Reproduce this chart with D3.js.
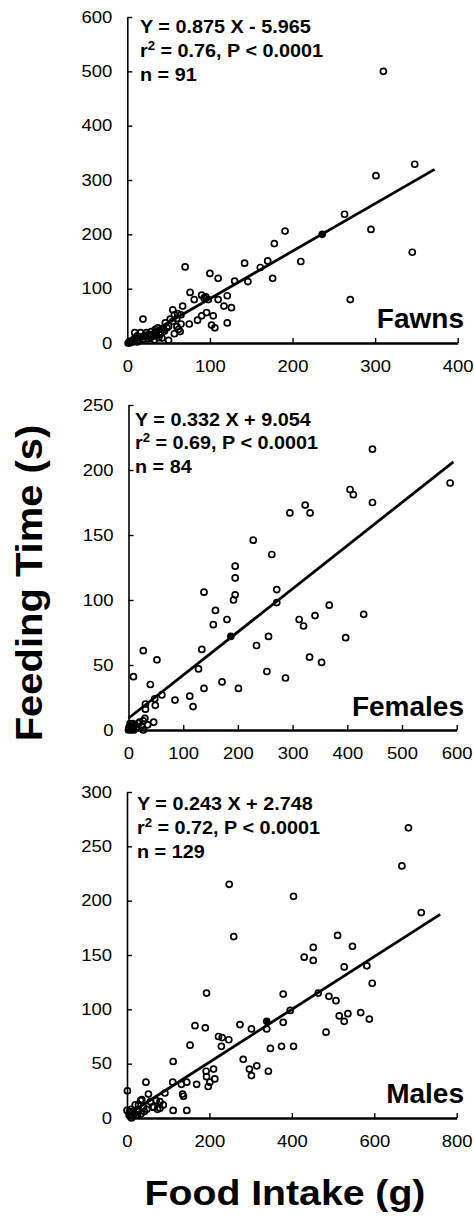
<!DOCTYPE html>
<html><head><meta charset="utf-8">
<script src="https://cdn.jsdelivr.net/npm/d3@7"></script>
<style>
html,body{margin:0;padding:0;background:#fff;}
svg{display:block;}
text{font-family:"Liberation Sans",Arial,Helvetica,sans-serif;fill:#000;}
</style></head>
<body>
<svg id="chart" width="474" height="1216"></svg>
<script>
// ---------- data ----------
const panelNames = ["Fawns", "Females", "Males"];
const equations = ["Y = 0.875 X - 5.965", "Y = 0.332 X + 9.054", "Y = 0.243 X + 2.748"];
const r2Values = ["0.76", "0.69", "0.72"];
const pValues = ["P < 0.0001", "P < 0.0001", "P < 0.0001"];
const nValues = ["91", "84", "129"];
const slopes = [0.875, 0.332, 0.243];
const intercepts = [-5.965, 9.054, 2.748];
const lineRanges = [[1, 372], [0, 594], [0, 760]];
const xDomains = [[0, 400], [0, 600], [0, 800]];
const yDomains = [[0, 600], [0, 250], [0, 300]];
const xTicks = [[0, 100, 200, 300, 400], [0, 100, 200, 300, 400, 500, 600], [0, 200, 400, 600, 800]];
const yTicks = [[0, 100, 200, 300, 400, 500, 600], [0, 50, 100, 150, 200, 250], [0, 50, 100, 150, 200, 250, 300]];
const xTitle = "Food Intake (g)";
const yTitle = "Feeding Time (s)";

const fawns = [
  [310,500],[301,308],[263,237],[295,209],[345,167],[270,80],[348,329],
  [191,206],[178,183],[210,150],[176,119],[170,151],[161,139],[142,147],[146,113],[130,114],
  [70,140],[100,128],[110,119],[121,87],[110,80],[117,68],[126,65],[121,37],[104,50],[102,33],[106,28],
  [96,56],[90,50],[85,42],[76,93],[81,80],[90,88],[95,85],[98,80],[93,83],
  [67,68],[75,35],[65,35],[64,21],[57,17],[60,30],[55,61],[57,52],[61,54],[65,52],[52,44],[46,37],[50,31],
  [44,25],[37,28],[34,25],[31,15],[39,15],[29,21],[23,19],[19,44],[16,19],[9,19],[12,13],[7,6],[19,7],
  [50,5],[42,9],[33,6],[2,0],[3,1],[4,2],[5,1],[6,4],[8,3],[10,8],[14,10],[18,12],[22,14],[26,16],
  [28,10],[35,18],[40,20],[45,22],[48,28],[55,40],[60,45],[62,25],[1,0],[3,3],[12,2],[15,5],[25,8],[30,12],[38,10]
];
const females = [
  [446,216],[588,190],[405,185],[411,181],[446,175],[323,173],[332,167],[295,167],[228,146],[262,135],
  [195,126],[195,117],[195,104],[192,100],[271,108],[271,98],[138,106],[159,92],[155,81],[180,85],
  [367,96],[312,85],[320,80],[341,88],[430,89],[397,71],[256,72],[234,65],[134,62],[27,61],[52,54],
  [9,41],[128,47],[331,56],[353,52],[253,45],[287,40],[171,37],[138,32],[201,32],[40,35],[61,27],
  [85,23],[112,26],[118,18],[49,19],[48,24],[31,16],[31,20],[27,7],[46,6],[27,0],[18,5],[9,3],[5,0],
  [1,2],[0,0],[2,1],[4,3],[6,2],[8,5],[12,4],[15,2],[20,6],[24,3],[30,9],[35,4],[3,5],[7,1],[10,0]
];
const males = [
  [683,267],[667,232],[714,189],[248,215],[404,204],[259,167],[511,168],[547,158],[452,157],[430,148],
  [452,145],[527,139],[582,140],[595,124],[464,115],[379,114],[193,115],[490,112],[507,108],[396,99],
  [567,97],[588,91],[515,94],[536,96],[527,89],[483,79],[379,88],[339,82],[302,82],[274,86],[375,66],
  [404,66],[348,64],[282,54],[315,48],[297,45],[343,43],[302,39],[165,85],[190,83],[222,75],[231,74],
  [247,72],[229,66],[153,67],[112,52],[192,43],[210,45],[193,38],[201,33],[213,36],[197,29],[169,31],
  [145,33],[132,31],[111,33],[135,22],[137,20],[92,23],[46,33],[52,22],[36,17],[57,15],[71,16],[80,9],
  [62,10],[42,6],[26,6],[112,7],[145,7],[48,8],[33,16],[20,12],[1,25],[6,6],[11,0],[18,4],[34,4],[0,7],
  [10,8],[28,12],[40,10],[25,3],[15,6],[5,3],[12,2],[65,10],[80,15],[88,12],[74,8]
];
const panelPoints = [fawns, females, males];
const panelMeans = [[236, 200], [187, 72], [339, 89]];

// ---------- layout ----------
const layout = [
  {top:17,  bottom:343,  left:127.3, right:457.7, statX:140, statBase:33,    labelBase:328},
  {top:405, bottom:730,  left:128.5, right:456.7, statX:135, statBase:425.5, labelBase:716},
  {top:792, bottom:1118, left:127,   right:456.7, statX:137, statBase:810,   labelBase:1103}
];
const SX = 1.12;  // horizontal stretch of the original typeface

const svg = d3.select("#chart");
svg.append("rect").attr("width",474).attr("height",1216).attr("fill","#fff");

panelNames.forEach((name, i) => {
  const L = layout[i];
  const x = d3.scaleLinear().domain(xDomains[i]).range([L.left, L.right]);
  const y = d3.scaleLinear().domain(yDomains[i]).range([L.bottom, L.top]);
  const g = svg.append("g");

  // y axis
  const ya = g.append("g").attr("transform", `translate(${L.left},0)`)
    .call(d3.axisLeft(y).tickValues(yTicks[i]).tickSizeInner(-5).tickSizeOuter(0).tickPadding(15));
  ya.select(".domain").attr("stroke","#000").attr("stroke-width",1.6);
  ya.selectAll(".tick line").attr("stroke","#000").attr("stroke-width",1.4);
  ya.selectAll(".tick text").attr("font-size",16.5).attr("font-family",'"Liberation Sans",Arial,sans-serif')
    .attr("x", -15 / SX).attr("transform", `scale(${SX},1)`);

  // x axis
  const xa = g.append("g").attr("transform", `translate(0,${L.bottom})`)
    .call(d3.axisBottom(x).tickValues(xTicks[i]).tickSizeInner(-5).tickSizeOuter(0).tickPadding(17));
  xa.select(".domain").attr("stroke","#000").attr("stroke-width",2.6);
  xa.selectAll(".tick line").attr("stroke","#000").attr("stroke-width",1.4);
  xa.selectAll(".tick text").attr("font-size",16.5).attr("font-family",'"Liberation Sans",Arial,sans-serif')
    .attr("transform", `scale(${SX},1)`);

  // regression line
  const lr = lineRanges[i];
  g.append("line")
    .attr("x1", x(lr[0])).attr("y1", y(slopes[i]*lr[0] + intercepts[i]))
    .attr("x2", x(lr[1])).attr("y2", y(slopes[i]*lr[1] + intercepts[i]))
    .attr("stroke","#000").attr("stroke-width",2.8);

  // points
  g.append("g").selectAll("circle").data(panelPoints[i]).join("circle")
    .attr("cx", d => x(d[0])).attr("cy", d => y(d[1])).attr("r", 3.0)
    .attr("fill","none").attr("stroke","#000").attr("stroke-width",1.7);

  // mean point
  g.append("circle").attr("cx", x(panelMeans[i][0])).attr("cy", y(panelMeans[i][1]))
    .attr("r", 3.8).attr("fill","#000");

  // stats text
  const st = g.append("g").attr("transform", `translate(${L.statX},${L.statBase})`);
  st.append("text").attr("transform", `scale(1.1,1)`)
    .attr("font-size",18).attr("font-weight","bold").attr("x",0).attr("y",0).text(equations[i]);
  const t2 = st.append("text").attr("transform", `scale(1.1,1)`)
    .attr("font-size",18).attr("font-weight","bold");
  t2.append("tspan").attr("x",0).attr("y",24).text("r");
  t2.append("tspan").attr("font-size",12).attr("dy",-7).text("2");
  t2.append("tspan").attr("dy",7).text(` = ${r2Values[i]}, ${pValues[i]}`);
  st.append("text").attr("transform", `scale(1.1,1)`)
    .attr("font-size",18).attr("font-weight","bold").attr("x",0).attr("y",48)
    .text(`n = ${nValues[i]}`);

  // panel label
  g.append("text").attr("x", 464).attr("y", L.labelBase).attr("text-anchor","end")
    .attr("font-size",28).attr("font-weight","bold").text(name);
});

// axis titles
svg.append("g").attr("transform","translate(42,583) rotate(-90) scale(1.08,1)")
  .append("text").attr("text-anchor","middle").attr("font-size",37).attr("font-weight","bold").text(yTitle);
svg.append("g").attr("transform","translate(285,1205) scale(1.12,1)")
  .append("text").attr("text-anchor","middle").attr("font-size",35).attr("font-weight","bold").text(xTitle);
</script>
</body></html>
